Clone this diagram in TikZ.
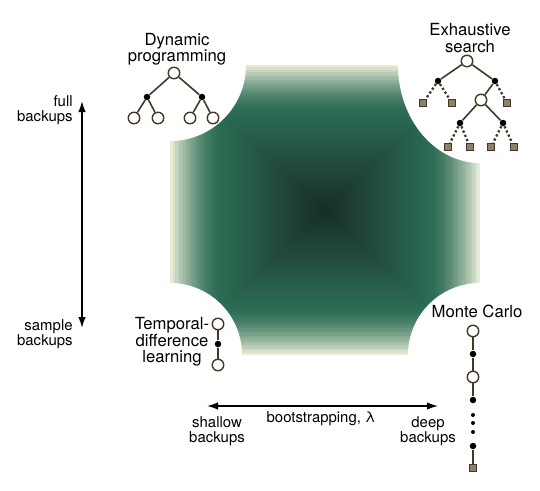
\documentclass[tikz,border=0pt]{standalone}
\usepackage{fontspec}
\setmainfont{TeX Gyre Heros}
\usetikzlibrary{arrows.meta}

\definecolor{linec}{RGB}{66,56,36}
\definecolor{sqfill}{RGB}{140,130,108}

\tikzset{
  opn/.style={circle, draw=linec, fill=white, line width=0.8pt, minimum size=0.23cm, inner sep=0pt},
  act/.style={circle, fill=black, minimum size=0.13cm, inner sep=0pt},
  tiny/.style={circle, fill=black, minimum size=0.08cm, inner sep=0pt},
  term/.style={rectangle, draw=linec, fill=sqfill, line width=0.6pt, minimum size=0.15cm, inner sep=0pt},
  edge/.style={draw=linec, line width=0.9pt},
  dotedge/.style={draw=linec, line width=1.3pt, dash pattern=on 1.3pt off 1.3pt},
  lbl/.style={font=\fontsize{9.5}{9.4}\selectfont, align=center, inner sep=0pt},
  sml/.style={font=\fontsize{8.5}{8.5}\selectfont, inner sep=0pt},
  ax/.style={{Latex[length=0.22cm,width=0.15cm]}-{Latex[length=0.22cm,width=0.15cm]}, line width=0.9pt}
}

\begin{document}
\begin{tikzpicture}[x=0.02cm, y=-0.02cm]
    \useasboundingbox (0,0) rectangle (540,490);

    % shaded square, outside in
    \foreach \i in {60,...,1}{
        \pgfmathsetmacro{\t}{\i/60}
        \pgfmathsetmacro{\s}{(\t>0.68) ? ((max(\t-0.68,0.001)/0.32)^1.6) : (\t/0.68)}
        \pgfmathtruncatemacro{\r}{(\t>0.68) ? (44+186*\s) : (24+20*\s)}
        \pgfmathtruncatemacro{\g}{(\t>0.68) ? (108+127*\s) : (46+62*\s)}
        \pgfmathtruncatemacro{\b}{(\t>0.68) ? (84+130*\s) : (37+47*\s)}
        \definecolor{band}{RGB}{\r,\g,\b}
        \fill[band] ({325-155*\t},{210-145*\t}) rectangle ({325+155*\t},{210+145*\t});
    }

    % corner cut-outs
    \fill[white] (170,65) circle[radius=76];
    \fill[white] (480,65) ellipse[x radius=82, y radius=98];
    \fill[white] (170,355) circle[radius=72];
    \fill[white] (480,355) circle[radius=72];

    % dynamic programming
    \node[lbl] (dptext) at (177,49) {Dynamic\\programming};
    \node[opn] (dpr) at (174,73) {};
    \node[act] (dpa) at (147,97) {};
    \node[act] (dpb) at (202,97) {};
    \node[opn] (dp1) at (134,118) {};
    \node[opn] (dp2) at (158,118) {};
    \node[opn] (dp3) at (190,118) {};
    \node[opn] (dp4) at (213,118) {};
    \draw[edge] (dpr)--(dpa);
    \draw[edge] (dpr)--(dpb);
    \draw[edge] (dpa)--(dp1);
    \draw[edge] (dpa)--(dp2);
    \draw[edge] (dpb)--(dp3);
    \draw[edge] (dpb)--(dp4);

    % exhaustive search
    \node[lbl] (estext) at (470,38) {Exhaustive\\search};
    \node[opn] (esr) at (467,61) {};
    \node[act] (esa) at (438,81) {};
    \node[act] (esb) at (495,81) {};
    \node[term] (es1) at (423,103) {};
    \node[term] (es2) at (452,103) {};
    \node[opn] (esc) at (481,100) {};
    \node[term] (es3) at (507,103) {};
    \node[act] (esd) at (460,123) {};
    \node[act] (ese) at (503,123) {};
    \node[term] (es4) at (448,147) {};
    \node[term] (es5) at (470,147) {};
    \node[term] (es6) at (491,147) {};
    \node[term] (es7) at (514,147) {};
    \draw[edge] (esr)--(esa);
    \draw[edge] (esr)--(esb);
    \draw[dotedge] (esa)--(es1);
    \draw[dotedge] (esa)--(es2);
    \draw[edge] (esb)--(esc);
    \draw[dotedge] (esb)--(es3);
    \draw[edge] (esc)--(esd);
    \draw[edge] (esc)--(ese);
    \draw[dotedge] (esd)--(es4);
    \draw[dotedge] (esd)--(es5);
    \draw[dotedge] (ese)--(es6);
    \draw[dotedge] (ese)--(es7);

    % temporal-difference
    \node[lbl] (tdtext) at (172,342) {Temporal-\\difference\\learning};
    \node[opn] (tdr) at (218,324) {};
    \node[act] (tdm) at (218,344) {};
    \node[opn] (tdl) at (218,365) {};
    \draw[edge] (tdr)--(tdm);
    \draw[edge] (tdm)--(tdl);

    % monte carlo
    \node[lbl] (mctext) at (477,311) {Monte Carlo};
    \node[opn] (mc1) at (473,331) {};
    \node[act] (mc2) at (473,354) {};
    \node[opn] (mc3) at (473,377) {};
    \node[act] (mc4) at (473,400) {};
    \node[tiny] (mce1) at (473,415) {};
    \node[tiny] (mce2) at (473,423) {};
    \node[tiny] (mce3) at (473,432) {};
    \node[act] (mc5) at (473,446) {};
    \node[term] (mc6) at (473,468) {};
    \draw[edge] (mc1)--(mc2);
    \draw[edge] (mc2)--(mc3);
    \draw[edge] (mc3)--(mc4);
    \draw[edge] (mc5)--(mc6);

    % vertical axis
    \coordinate (fulltip) at (82,101);
    \coordinate (sampletip) at (82,328);
    \draw[ax] (sampletip)--(fulltip);
    \node[sml, align=right, anchor=east] (fulltext) at (73,110) {full\\backups};
    \node[sml, align=right, anchor=east] (sampletext) at (73,334) {sample\\backups};

    % horizontal axis
    \coordinate (shallowtip) at (207,406);
    \coordinate (deeptip) at (438,406);
    \draw[ax] (shallowtip)--(deeptip);
    \node[sml, align=center] (shallowtext) at (217,431) {shallow\\backups};
    \node[sml] (boottext) at (321,419) {bootstrapping, λ};
    \node[sml, align=center] (deeptext) at (428,431) {deep\\backups};

\end{tikzpicture}
\end{document}
